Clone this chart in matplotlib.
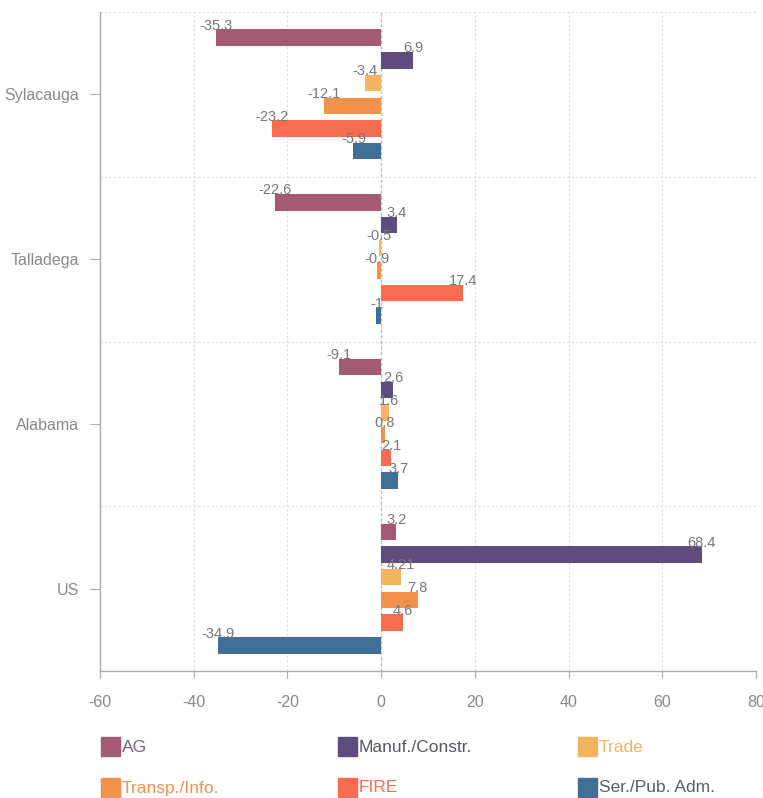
import matplotlib
matplotlib.use("Agg")
import matplotlib.pyplot as plt
from matplotlib.patches import Rectangle

plt.rcParams['font.family'] = ['Liberation Sans', 'DejaVu Sans']

places = ["Sylacauga", "Talladega", "Alabama", "US"]
sectors = ["AG", "Manuf./Constr.", "Trade", "Transp./Info.", "FIRE", "Ser./Pub. Adm."]
colors = ["#a45a72", "#5f4b7c", "#f3b35f", "#f2914b", "#f56c4f", "#3f6f97"]
legend_text_colors = ["#7a5f6f", "#5b5563", "#f3b35f", "#f2914b", "#f56c4f", "#565d66"]

ag = [-35.3, -22.6, -9.1, 3.2]
manuf = [6.9, 3.4, 2.6, 68.4]
trade = [-3.4, -0.5, 1.6, 4.21]
transp = [-12.1, -0.9, 0.8, 7.8]
fire = [-23.2, 17.4, 2.1, 4.6]
service = [-5.9, -1, 3.7, -34.9]
series = [ag, manuf, trade, transp, fire, service]

xticks = [-60, -40, -20, 0, 20, 40, 60, 80]

W, H = 763, 798
fig = plt.figure(figsize=(W / 100, H / 100), dpi=100)
ax = fig.add_axes([100 / W, 1 - 671 / H, 656 / W, 659 / H])

slot = 0.138
bar_h = 0.1
for j, (vals, col) in enumerate(zip(series, colors)):
    ys = [i + (j - 2.5) * slot for i in range(len(places))]
    ax.barh(ys, vals, height=bar_h, color=col, zorder=3)
    for y, v in zip(ys, vals):
        ax.text(v, y - bar_h / 2 - 0.022, f"{v:g}", ha="center", va="center",
                fontsize=10.5, color="#777777", zorder=4)

ax.set_xlim(-60, 80)
ax.set_ylim(3.5, -0.5)
ax.set_xticks(xticks)
ax.set_xticklabels([str(t) for t in xticks])
ax.set_yticks(range(len(places)))
ax.set_yticklabels(places)
ax.tick_params(axis="both", colors="#aaaaaa", labelcolor="#888888", labelsize=11.5)
ax.tick_params(axis="y", length=7, pad=8)
ax.tick_params(axis="x", length=5, pad=12)

for x in xticks:
    ax.axvline(x, color="#dddddd", lw=0.8, ls=(0, (2, 2)), zorder=1)
ax.axvline(0, color="#bbbbbb", lw=1, ls=(0, (2, 2)), zorder=2)
for y in [-0.5, 0.5, 1.5, 2.5]:
    ax.axhline(y, color="#dddddd", lw=0.8, ls=(0, (2, 2)), zorder=1)

for s in ["top", "right"]:
    ax.spines[s].set_visible(False)
for s in ["left", "bottom"]:
    ax.spines[s].set_color("#aaaaaa")
    ax.spines[s].set_linewidth(1)

# legend drawn in figure pixel coordinates
cols_x = [101, 338, 578]
rows_y = [747, 788]
for k, (name, col, tcol) in enumerate(zip(sectors, colors, legend_text_colors)):
    cx = cols_x[k % 3]
    cy = rows_y[k // 3]
    fig.patches.append(Rectangle((cx / W, 1 - (cy + 9) / H), 19 / W, 19 / H,
                                 transform=fig.transFigure, color=col))
    fig.text((cx + 21) / W, 1 - cy / H, name, fontsize=12.5, color=tcol,
             ha="left", va="center")

fig.savefig("out.png", dpi=100)
